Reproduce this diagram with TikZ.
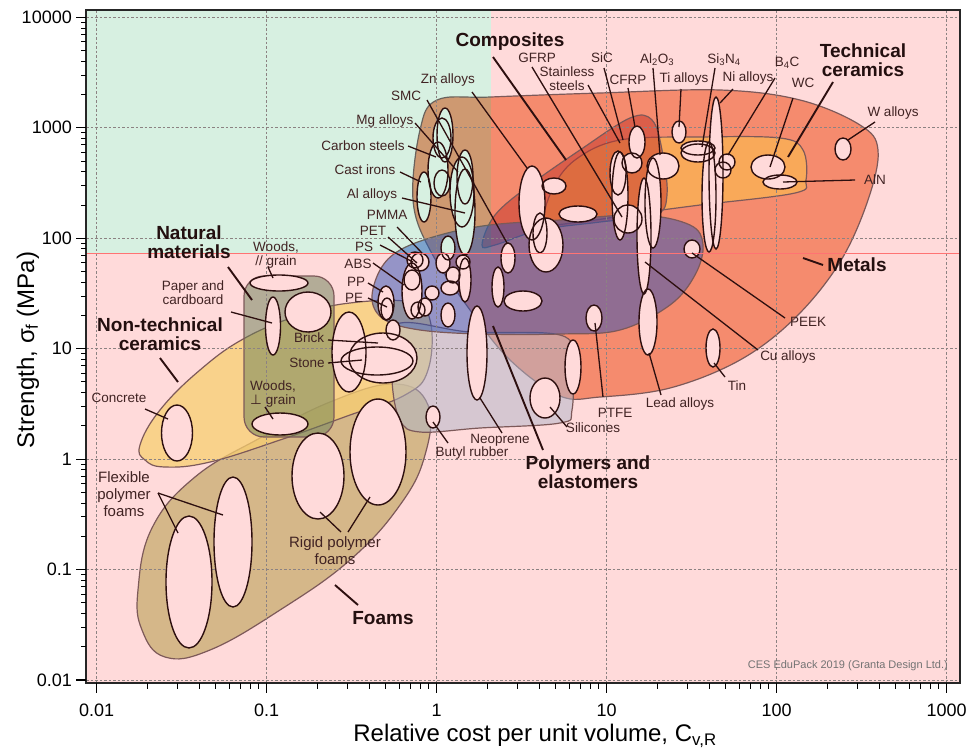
\documentclass[tikz,border=0pt]{standalone}
\usepackage{fontspec}
\setmainfont{Liberation Sans}
\newfontfamily\dejavu{DejaVu Sans}
\definecolor{greenq}{RGB}{215,240,225}
\definecolor{pinkq}{RGB}{255,218,218}
\definecolor{foamc}{RGB}{198,200,125}
\definecolor{ceramc}{RGB}{248,243,133}
\definecolor{natc}{RGB}{105,150,100}
\definecolor{metc}{RGB}{243,141,98}
\definecolor{techc}{RGB}{253,222,89}
\definecolor{compc}{RGB}{195,58,47}
\definecolor{elasc}{RGB}{175,213,237}
\definecolor{polyc}{RGB}{45,95,213}
\definecolor{envline}{RGB}{125,105,105}
\definecolor{bubline}{RGB}{45,15,15}
\definecolor{labcol}{RGB}{65,35,35}
\definecolor{catcol}{RGB}{35,15,15}
\definecolor{gridcol}{RGB}{140,130,130}
\newcommand\leader[3]{\coordinate (#1a) at #2; \coordinate (#1b) at #3; \draw[leadln] (#1a) -- (#1b);}
\newcommand\catleader[3]{\coordinate (#1a) at #2; \coordinate (#1b) at #3; \draw[catln] (#1a) -- (#1b);}
\newcommand\bublist{189/582/23/66, 233/542/19/65, 318/476/26/43, 378/452/28/53, 177/433/15.5/28, 280/424/28/11, 433/417/7/11,
279/283/29/8, 273/326/7.5/29, 308/312/23/20, 349/352/17/40, 383/358/34/25, 377/361/36/14, 393/330/7/10,
386/303/8/17, 387/309/6/11, 412/291/10/28, 415/260/8/8, 420/262/9/9, 412/280/8/10, 432/293/7/7, 418/310/7/8, 425/307/7/9,
443/263/7/10, 453/275/7/8, 463/262/7/7, 450/288/9/7, 448/315/7/12, 465/280/6/22, 448/248/7/12,
465/212/10/43, 462/192/12/35, 465/177/8/27, 445/135/8/27, 442/138/9/20, 438/170/10/28, 442/183/8/13, 424/197/7/25,
508/258/7/15, 532/203/13/37, 554/186/12/8, 546/245/17/27, 540/233/7/20, 578/214/19/8, 498/287/6/20, 523/301/19/10,
618/173/8/22, 620/196/8/44, 637/142/8/16, 632/163/10/10, 628/219/14/14, 663/166/16/13, 653/203/8/45, 644/236/7/58,
679/132/7/11, 716/173/7/76, 709/197/7/55, 698/153/17/9, 698/148/17/7, 723/170/8/8, 727/162/8/8, 692/249/8/9,
768/167/17/12, 780/182/17/7, 843/149/8/11,
594/318/8/13, 648/322/9/33, 713/348/7/19, 573/367/8/27, 545/398/15/20, 477/353/10/47}
\begin{document}
\begin{tikzpicture}[x=1pt,y=-1pt,
  lab/.style={text=labcol,font=\fontsize{13.5}{14}\selectfont,inner sep=0pt,align=center},
  biglab/.style={text=labcol,font=\fontsize{15}{17}\selectfont,inner sep=0pt,align=center},
  cat/.style={text=catcol,font=\fontsize{19}{19.5}\selectfont\bfseries,inner sep=0pt,align=center},
  ticklab/.style={font=\fontsize{18}{18}\selectfont,inner sep=0pt},
  leadln/.style={draw=bubline,line width=1.3pt},
  catln/.style={draw=bubline,line width=1.9pt},
  env/.style={draw=envline,line width=1.2pt},
  bub/.style={draw=bubline,line width=1.4pt},
  gridln/.style={draw=gridcol,line width=0.7pt,dash pattern=on 2.5pt off 2pt}]
\useasboundingbox (0,0) rectangle (968,753);
\fill[white] (86,10) rectangle (960,683);
% envelopes
\path[env,fill=foamc,fill opacity=0.72] plot[smooth cycle,tension=0.7] coordinates {(138,590) (152,528) (195,477) (260,438) (330,402) (395,384) (428,405) (425,455) (400,505) (350,560) (280,610) (210,650) (165,657) (142,630)};
\path[env,fill=ceramc,fill opacity=0.75] plot[smooth cycle,tension=0.7] coordinates {(140,445) (160,410) (200,370) (245,338) (300,315) (350,303) (410,302) (430,320) (428,370) (405,395) (350,415) (280,440) (210,462) (165,467) (145,460)};
\path[env,fill=natc,fill opacity=0.5,rounded corners=20pt] (244,276) rectangle (334,437);
\path[env,fill=metc,fill opacity=0.8] plot[smooth cycle,tension=0.6] coordinates {(437,100) (491,97) (600,93) (720,90) (800,100) (860,125) (878,150) (868,200) (840,262) (795,318) (740,360) (670,388) (600,397) (560,396) (510,360) (470,310) (430,250) (413,200) (420,130)};
\path[env,fill=techc,fill opacity=0.6] plot[smooth cycle,tension=0.6] coordinates {(546,222) (552,190) (575,160) (620,140) (700,137) (780,138) (803,150) (806,180) (795,193) (700,205) (640,213) (580,222)};
\path[env,fill=compc,fill opacity=0.5] plot[smooth cycle,tension=0.6] coordinates {(482,245) (495,215) (530,185) (580,150) (630,118) (652,120) (662,150) (667,195) (655,215) (600,222) (540,230) (495,245)};
\path[env,fill=elasc,fill opacity=0.5] plot[smooth cycle,tension=0.6] coordinates {(395,325) (470,332) (560,335) (572,360) (572,410) (560,423) (480,428) (420,432) (400,420) (392,380)};
\path[env,fill=polyc,fill opacity=0.5] plot[smooth cycle,tension=0.6] coordinates {(372,300) (380,270) (400,250) (440,235) (490,225) (560,220) (640,215) (690,225) (703,245) (695,275) (670,305) (620,330) (560,334) (480,334) (420,330) (385,320)};
% quadrant overlays
\fill[greenq,blend mode=multiply] (86,10) rectangle (491,253);
\fill[pinkq,blend mode=multiply] (491,10) rectangle (960,683);
\fill[pinkq,blend mode=multiply] (86,253) rectangle (491,683);
% grid
\foreach \d in {0,...,5} \draw[gridln] ({96.7+170*\d},10) -- ({96.7+170*\d},683);
\foreach \d in {0,...,6} \draw[gridln] (86,{17.3+110.45*\d}) -- (960,{17.3+110.45*\d});
% bubbles
\foreach \x/\y/\a/\b in \bublist {\fill[pinkq] (\x,\y) ellipse [x radius=\a pt, y radius=\b pt];}
\begin{scope}
\clip (86,10) rectangle (491,253);
\foreach \x/\y/\a/\b in \bublist {\fill[greenq] (\x,\y) ellipse [x radius=\a pt, y radius=\b pt];}
\end{scope}
\foreach \x/\y/\a/\b in \bublist {\draw[bub] (\x,\y) ellipse [x radius=\a pt, y radius=\b pt];}
\draw[red!55,line width=0.5pt] (86,253) -- (960,253);
% frame and ticks
\draw[line width=1.6pt,black!85] (86,10) rectangle (960,683);
\foreach \d in {0,...,5} \draw[line width=1.1pt] ({96.7+170*\d},683) -- ++(0,10);
\foreach \d in {0,...,4} \foreach \l in {0.301,0.477,0.602,0.699,0.778,0.845,0.903,0.954} \draw[line width=0.9pt] ({96.7+170*(\d+\l)},683) -- ++(0,5.5);
\foreach \d in {0,...,6} \draw[line width=1.1pt] (86,{680-110.45*\d}) -- ++(-10,0);
\foreach \d in {0,...,5} \foreach \l in {0.301,0.477,0.602,0.699,0.778,0.845,0.903,0.954} \draw[line width=0.9pt] (86,{680-110.45*(\d+\l)}) -- ++(-5.5,0);
\foreach \d/\t in {0/0.01,1/0.1,2/1,3/10,4/100,5/1000} \node[ticklab] (xt\d) at ({96.7+170*\d},710) {\t};
\foreach \d/\t in {0/0.01,1/0.1,2/1,3/10,4/100,5/1000,6/10000} \node[ticklab,anchor=east] (yt\d) at (72,{680-110.45*\d}) {\t};
\node[font=\fontsize{24}{24}\selectfont,inner sep=0pt] (xtitle) at (535,736) {Relative cost per unit volume, C\textsubscript{v,R}};
\node[font=\fontsize{24}{24}\selectfont,inner sep=0pt,rotate=90] (ytitle) at (28,350) {Strength, σ\textsubscript{f} (MPa)};
\node[font=\fontsize{11}{11}\selectfont,text=black!55,anchor=east,inner sep=0pt] (ces) at (948,666) {CES EduPack 2019 (Granta Design Ltd.)};
% material labels
\node[lab] (zn) at (448,80) {Zn alloys};
\node[lab] (smc) at (406,96) {SMC};
\node[lab] (mg) at (385,121) {Mg alloys};
\node[lab] (cs) at (363,146) {Carbon steels};
\node[lab] (ci) at (365,170) {Cast irons};
\node[lab] (al) at (372,195) {Al alloys};
\node[lab] (pmma) at (387,215) {PMMA};
\node[lab] (pet) at (373,231) {PET};
\node[lab] (ps) at (364,247) {PS};
\node[lab] (abs) at (358,264) {ABS};
\node[lab] (pp) at (356,282) {PP};
\node[lab] (pe) at (354,298) {PE};
\node[lab] (wpar) at (276,255) {Woods,\\// grain};
\node[lab] (paper) at (193,293) {Paper and\\cardboard};
\node[lab] (brick) at (309,338) {Brick};
\node[lab] (stone) at (307,363) {Stone};
\node[lab] (concrete) at (119,398) {Concrete};
\node[lab] (wperp) at (273,394) {Woods,\\{\dejavu ⊥} grain};
\node[biglab] (flex) at (124,494) {Flexible\\polymer\\foams};
\node[biglab] (rigid) at (335,551) {Rigid polymer\\foams};
\node[lab] (neo) at (500,440) {Neoprene};
\node[lab] (butyl) at (472,453) {Butyl rubber};
\node[lab] (sil) at (593,428) {Silicones};
\node[lab] (ptfe) at (615,413) {PTFE};
\node[lab] (lead) at (680,404) {Lead alloys};
\node[lab] (tin) at (737,386) {Tin};
\node[lab] (cu) at (788,357) {Cu alloys};
\node[lab] (peek) at (808,322) {PEEK};
\node[lab] (aln) at (875,180) {AlN};
\node[lab] (w) at (893,113) {W alloys};
\node[lab] (wc) at (803,83) {WC};
\node[lab] (b4c) at (787,63) {B\textsubscript{4}C};
\node[lab] (ni) at (748,78) {Ni alloys};
\node[lab] (si3n4) at (724,60) {Si\textsubscript{3}N\textsubscript{4}};
\node[lab] (ti) at (684,79) {Ti alloys};
\node[lab] (al2o3) at (657,60) {Al\textsubscript{2}O\textsubscript{3}};
\node[lab] (cfrp) at (628,80) {CFRP};
\node[lab] (sic) at (602,58) {SiC};
\node[lab] (ss) at (567,79) {Stainless\\steels};
\node[lab] (gfrp) at (537,58) {GFRP};
% category labels
\node[cat] (comp) at (510,42) {Composites};
\node[cat] (tech) at (863,60) {Technical\\ceramics};
\node[cat] (met) at (857,265) {Metals};
\node[cat] (nat) at (189,242) {Natural\\materials};
\node[cat] (ntc) at (160,334) {Non-technical\\ceramics};
\node[cat] (foam) at (383,618) {Foams};
\node[cat] (poly) at (588,472) {Polymers and\\elastomers};
% leaders
\leader{Lzn}{(472,92)}{(527,168)}
\leader{Lsmc}{(427,100)}{(507,243)}
\leader{Lmg}{(415,123)}{(458,172)}
\leader{Lcs}{(408,146)}{(436,157)}
\leader{Lci}{(400,172)}{(421,182)}
\leader{Lal}{(402,198)}{(465,213)}
\leader{Lpmma}{(397,227)}{(422,253)}
\leader{Lpet}{(388,237)}{(417,263)}
\leader{Lps}{(380,245)}{(413,262)}
\leader{Labs}{(373,263)}{(404,285)}
\leader{Lpp}{(368,283)}{(383,292)}
\leader{Lpe}{(368,298)}{(387,307)}
\leader{Lwpar}{(268,267)}{(273,278)}
\leader{Lpaper}{(231,312)}{(272,323)}
\leader{Lbrick}{(328,340)}{(378,343)}
\leader{Lstone}{(328,363)}{(362,360)}
\leader{Lconc}{(145,409)}{(168,419)}
\leader{Lwperp}{(265,407)}{(273,419)}
\leader{Lflexa}{(158,493)}{(178,533)}
\leader{Lflexb}{(158,493)}{(223,515)}
\leader{Lriga}{(341,532)}{(320,512)}
\leader{Lrigb}{(348,532)}{(370,497)}
\leader{Lneo}{(502,433)}{(480,398)}
\leader{Lbutyl}{(448,443)}{(433,422)}
\leader{Lsil}{(567,427)}{(550,407)}
\leader{Lptfe}{(603,397)}{(595,323)}
\leader{Llead}{(661,395)}{(649,353)}
\leader{Ltin}{(725,377)}{(714,363)}
\leader{Lcu}{(758,350)}{(645,262)}
\leader{Lpeek}{(785,318)}{(692,253)}
\leader{Laln}{(855,180)}{(783,182)}
\leader{Lw}{(875,122)}{(848,140)}
\leader{Lwc}{(793,98)}{(770,167)}
\leader{Lb4c}{(775,78)}{(728,155)}
\leader{Lni}{(733,89)}{(720,103)}
\leader{Lsi}{(715,68)}{(702,147)}
\leader{Lti}{(681,89)}{(679,127)}
\leader{Lalo}{(653,68)}{(660,155)}
\leader{Lcfrp}{(628,88)}{(635,127)}
\leader{Lsic}{(604,68)}{(623,140)}
\leader{Lss}{(588,85)}{(620,143)}
\leader{Lgfrp}{(532,67)}{(622,217)}
\catleader{Ccomp}{(493,57)}{(566,160)}
\catleader{Ctech}{(833,82)}{(788,157)}
\catleader{Cmet}{(803,258)}{(823,265)}
\catleader{Cnat}{(228,267)}{(252,300)}
\catleader{Cntc}{(160,358)}{(178,382)}
\catleader{Cfoam}{(335,585)}{(358,605)}
\catleader{Cpoly}{(493,326)}{(543,450)}
\end{tikzpicture}
\end{document}
